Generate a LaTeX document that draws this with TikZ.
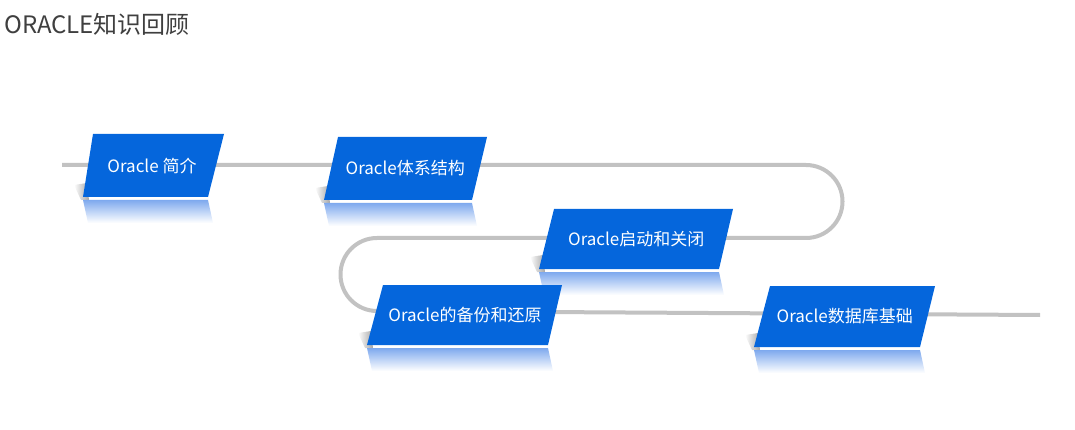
\documentclass[tikz,border=0pt]{standalone}
\usepackage{fontspec}
\setmainfont{Noto Sans CJK SC}
\usetikzlibrary{calc}
\definecolor{boxblue}{HTML}{0566DC}
\definecolor{trackgray}{HTML}{C2C2C2}
\definecolor{titlegray}{HTML}{3F3F3F}
\definecolor{reflblue}{HTML}{7EA9EE}
\tikzset{
  trackline/.style={draw=trackgray, line width=4pt},
  boxtext/.style={text=white, font=\fontsize{17}{20}\selectfont, inner sep=0pt},
  titletext/.style={text=titlegray, font=\fontsize{24}{28}\selectfont, anchor=west, inner sep=0pt},
}
% name, tlx, tly, trx, blx, bly, brx, text
\newcommand{\slantbox}[8]{%
  \shade[left color=white, right color=gray!70] (#5-9,#6-12) -- (#5+4,#6-14) -- (#5+6,#6+3) -- (#5-2,#6+3) -- cycle;
  \shade[top color=reflblue, bottom color=white] (#5,#6+3) -- (#7,#6+3) -- (#7+5,#6+26) -- (#5+5,#6+26) -- cycle;
  \fill[boxblue] (#2,#3) -- (#4,#3) -- (#7,#6) -- (#5,#6) -- cycle;
  \node[boxtext] (#1) at ({(#2+#4+#5+#7)/4},{(#3+#6)/2}) {#8};
}
\begin{document}
\begin{tikzpicture}[x=1pt,y=-1pt]
\useasboundingbox (0,0) rectangle (1075,430);
\node[titletext] (title) at (4,24) {ORACLE知识回顾};
\coordinate (s) at (62,165);
\coordinate (e) at (1040,315);
\draw[trackline] (s) -- (806,165) .. controls (826.16,165) and (842.5,181.34) .. (842.5,201.5) .. controls (842.5,221.66) and (826.16,238) .. (806,238) -- (377,238) .. controls (356.84,238) and (340.5,254.34) .. (340.5,274.5) .. controls (340.5,294.66) and (356.84,311) .. (377,311) -- (e);
\slantbox{b1}{93}{134}{224}{83}{197}{208}{Oracle 简介}
\slantbox{b2}{338}{137}{487}{324}{200}{472}{Oracle体系结构}
\slantbox{b3}{554}{209}{733}{539}{269}{719}{Oracle启动和关闭}
\slantbox{b4}{383}{285}{562}{367}{345}{548}{Oracle的备份和还原}
\slantbox{b5}{770}{286}{935}{754}{347}{920}{Oracle数据库基础}
\end{tikzpicture}
\end{document}
